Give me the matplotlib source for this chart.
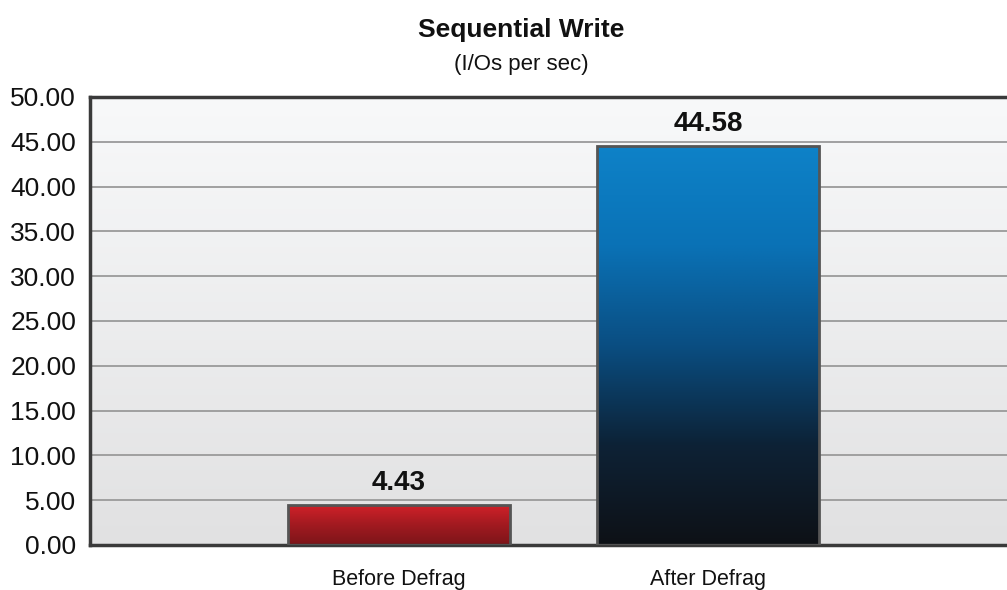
import matplotlib.pyplot as plt
import numpy as np
from matplotlib.colors import LinearSegmentedColormap

plt.rcParams['font.family'] = ['Liberation Sans', 'DejaVu Sans']

# Sequential write results
categories = ['Before Defrag', 'After Defrag']
values = [4.43, 44.58]
value_labels = ['4.43', '44.58']
yticks = [0, 5, 10, 15, 20, 25, 30, 35, 40, 45, 50]

fig = plt.figure(figsize=(10.07, 5.9), dpi=100)
ax = fig.add_axes([0.0894, 0.0763, 0.9206, 0.7593])

x = np.arange(len(categories))
ax.set_xlim(-1, 2)
ax.set_ylim(0, 50)

# plot background: white at top fading to light gray
bg = LinearSegmentedColormap.from_list('bg', ['#e1e1e2', '#f8f9fa'])
grad = np.linspace(0, 1, 256).reshape(-1, 1)
ax.imshow(grad, cmap=bg, origin='lower', aspect='auto',
          extent=[-1, 2, 0, 50], zorder=0)

for t in yticks[1:-1]:
    ax.axhline(t, color='#9a9a9a', lw=1.3, zorder=1)

bar_cmaps = [
    LinearSegmentedColormap.from_list('red', ['#7c1519', '#a11a20', '#d02129']),
    LinearSegmentedColormap.from_list('blue', ['#0e1116', '#0d2236', '#0a4e82',
                                               '#0a72b6', '#0e82c8']),
]

bars = ax.bar(x, values, width=0.72, facecolor='none',
              edgecolor='#555555', linewidth=2, zorder=3)
for b, cm in zip(bars, bar_cmaps):
    x0, w, h = b.get_x(), b.get_width(), b.get_height()
    im = ax.imshow(grad, cmap=cm, origin='lower', aspect='auto',
                   extent=[x0, x0 + w, 0, h], zorder=2)
    im.set_clip_path(b)

for xi, v, lab in zip(x, values, value_labels):
    ax.text(xi, v + 1.0, lab, ha='center', va='bottom',
            fontsize=20, fontweight='bold', color='#111111')

ax.set_xticks(x)
ax.set_xticklabels(categories, fontsize=15.5)
ax.set_yticks(yticks)
ax.set_yticklabels(['{:.2f}'.format(t) for t in yticks], fontsize=19)
ax.tick_params(axis='both', length=0, colors='#111111')
ax.tick_params(axis='y', pad=10)
ax.tick_params(axis='x', pad=17)

for side in ['left', 'top', 'bottom']:
    ax.spines[side].set_color('#3a3a3a')
    ax.spines[side].set_linewidth(2.5)
ax.spines['right'].set_visible(False)

fig.text(0.518, 0.950, 'Sequential Write', ha='center', va='center',
         fontsize=19, fontweight='bold', color='#111111')
fig.text(0.518, 0.890, '(I/Os per sec)', ha='center', va='center',
         fontsize=16, color='#111111')

fig.savefig('out.png', dpi=100)
